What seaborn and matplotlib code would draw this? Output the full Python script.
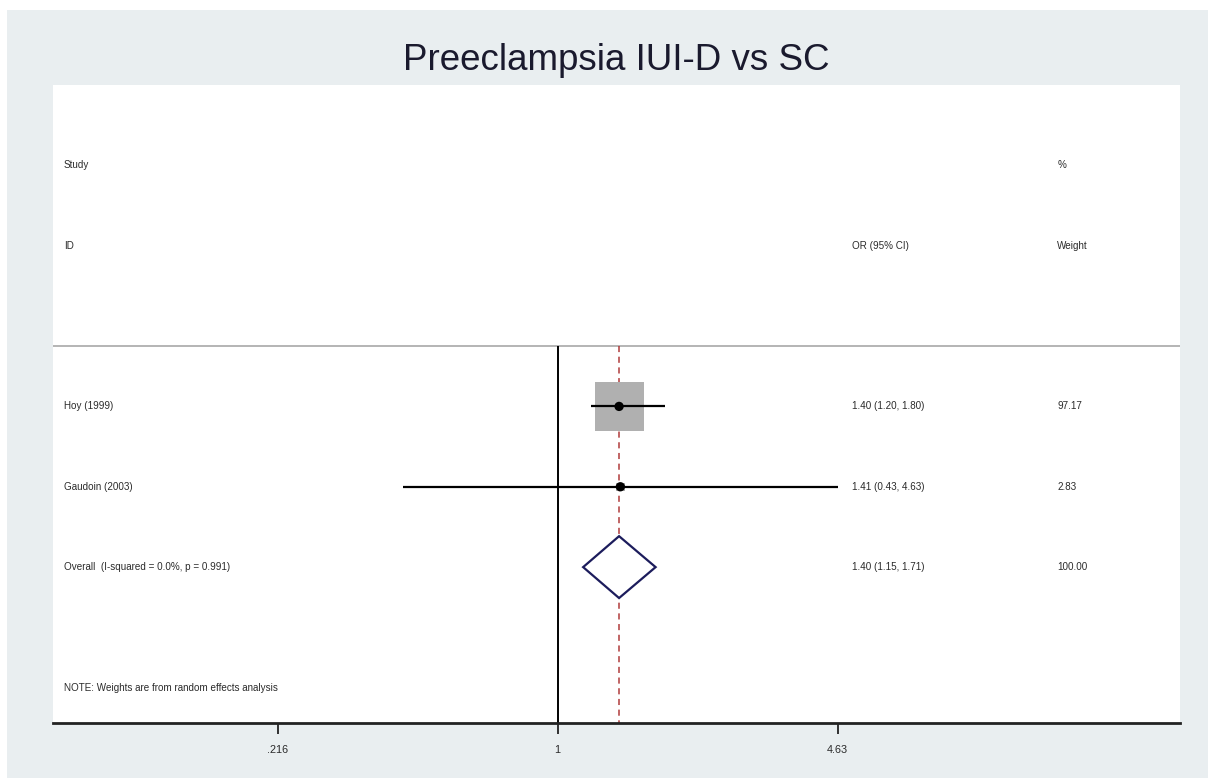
import numpy as np
import pandas as pd
import matplotlib
matplotlib.use("Agg")
import matplotlib.pyplot as plt
import matplotlib.transforms as mtransforms
from matplotlib.patches import Polygon, Rectangle
import seaborn as sns

sns.set_theme(style="white")
plt.rcParams['font.family'] = ['Liberation Sans', 'DejaVu Sans']

# ---- data ----
title = "Preeclampsia IUI-D vs SC"
studies = ["Hoy (1999)", "Gaudoin (2003)"]
or_est = [1.40, 1.41]
ci_low = [1.20, 0.43]
ci_high = [1.80, 4.63]
weights = [97.17, 2.83]
or_labels = ["1.40 (1.20, 1.80)", "1.41 (0.43, 4.63)"]
weight_labels = ["97.17", "2.83"]
overall_label = "Overall  (I-squared = 0.0%, p = 0.991)"
overall_est = 1.40
overall_low = 1.15
overall_high = 1.71
overall_or_label = "1.40 (1.15, 1.71)"
overall_weight_label = "100.00"
note = "NOTE: Weights are from random effects analysis"
xticks = [0.216, 1, 4.63]
xtick_labels = [".216", "1", "4.63"]

W, H = 1208, 778
fig = plt.figure(figsize=(W / 100, H / 100), dpi=100, facecolor="white")
bg = "#e9eef0"
fig.patches.append(Rectangle((7 / W, 0), 1 - 7 / W, 1 - 10 / H, transform=fig.transFigure,
                             facecolor=bg, edgecolor="none", zorder=-5))

ax = fig.add_axes([53 / W, 55 / H, (1180 - 53) / W, (723 - 85) / H])
ax.set_zorder(2)
ax.set_facecolor("white")
ax.set_xscale("log")
ax.set_xlim(0.0631, 30.2)
ax.set_ylim(6.94, -1.0)

rows = np.arange(3, 3 + len(studies))
overall_row = rows[-1] + 1
sep_row = 2.25

# separator line
ax.axhline(sep_row, color="#b4b4b4", lw=1.4, zorder=1)
# null line and overall line
ax.vlines(1, sep_row, 6.94, color="black", lw=1.4, zorder=2)
ax.vlines(overall_est, sep_row, 6.94, color="#b03a3a", lw=1.1, linestyles=(0, (4, 3)), zorder=2)

df = pd.DataFrame({"study": studies, "or": or_est, "lo": ci_low, "hi": ci_high,
                   "w": weights, "row": rows})
# weight squares
sns.scatterplot(data=df, x="or", y="row", size="w", sizes=(1246 * min(weights) / max(weights), 1246),
                size_norm=(min(weights), max(weights)), marker="s", color="#b0b0b0",
                edgecolor="none", legend=False, ax=ax, zorder=3)
# CI lines
ax.hlines(df["row"], df["lo"], df["hi"], color="black", lw=1.6, zorder=4)
# point estimates
sns.scatterplot(data=df, x="or", y="row", marker="o", color="black", s=45,
                edgecolor="none", legend=False, ax=ax, zorder=5)

# overall diamond
dh = 0.385
diamond = Polygon([(overall_low, overall_row), (overall_est, overall_row - dh),
                   (overall_high, overall_row), (overall_est, overall_row + dh)],
                  closed=True, facecolor="white", edgecolor="#1c1c5c", lw=1.6, zorder=6)
ax.add_patch(diamond)

# texts
tr = mtransforms.blended_transform_factory(ax.transAxes, ax.transData)
fs = 7.1
tc = "#2a2a2a"
xl, xo, xw = 0.0098, 0.709, 0.891
ax.text(xl, 0, "Study", transform=tr, fontsize=fs, color=tc, va="center")
ax.text(xl, 1, "ID", transform=tr, fontsize=fs, color=tc, va="center")
ax.text(xo, 1, "OR (95% CI)", transform=tr, fontsize=fs, color=tc, va="center")
ax.text(xw, 0, "%", transform=tr, fontsize=fs, color=tc, va="center")
ax.text(xw, 1, "Weight", transform=tr, fontsize=fs, color=tc, va="center")
for r, s, o, w in zip(rows, studies, or_labels, weight_labels):
    ax.text(xl, r, s, transform=tr, fontsize=fs, color=tc, va="center")
    ax.text(xo, r, o, transform=tr, fontsize=fs, color=tc, va="center")
    ax.text(xw, r, w, transform=tr, fontsize=fs, color=tc, va="center")
ax.text(xl, overall_row, overall_label, transform=tr, fontsize=fs, color=tc, va="center")
ax.text(xo, overall_row, overall_or_label, transform=tr, fontsize=fs, color=tc, va="center")
ax.text(xw, overall_row, overall_weight_label, transform=tr, fontsize=fs, color=tc, va="center")
ax.text(xl, 6.5, note, transform=tr, fontsize=fs, color=tc, va="center")

# axes styling
for side in ["top", "right", "left"]:
    ax.spines[side].set_visible(False)
ax.spines["bottom"].set_color("#222222")
ax.spines["bottom"].set_linewidth(2.0)
ax.set_yticks([])
ax.set_xticks(xticks)
ax.set_xticklabels(xtick_labels)
ax.xaxis.set_minor_locator(matplotlib.ticker.NullLocator())
ax.tick_params(axis="x", direction="out", length=8, width=1.3, color="#222222",
               labelsize=7.8, labelcolor=tc, pad=8, bottom=True)
ax.set_xlabel("")
ax.set_ylabel("")

fig.text(616 / W, 1 - 61 / H, title, ha="center", va="center", fontsize=26.5, color="#1a1a2e")

fig.savefig("out.png", dpi=100, facecolor=fig.get_facecolor())
